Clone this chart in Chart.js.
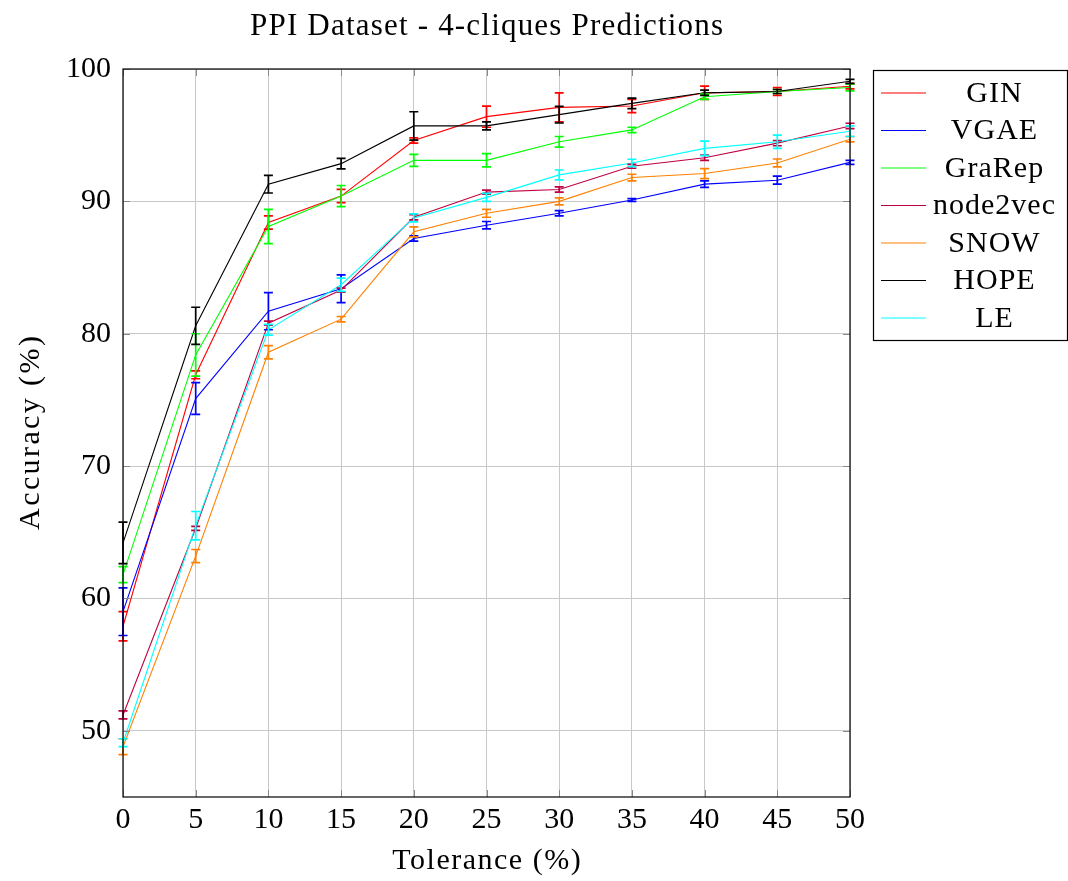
<!DOCTYPE html>
<html>
<head>
<meta charset="utf-8">
<script src="https://cdn.jsdelivr.net/npm/chart.js@4.4.1/dist/chart.umd.min.js"></script>
<style>
  html, body { margin: 0; padding: 0; background: #fff; }
  #wrap { width: 1068px; height: 881px; }
</style>
</head>
<body>
<div id="wrap"><canvas id="chart" width="1068" height="881"></canvas></div>
<script>
const tolerances = [0, 5, 10, 15, 20, 25, 30, 35, 40, 45, 50];
const xTicks = [0, 5, 10, 15, 20, 25, 30, 35, 40, 45, 50];
const yTicks = [50, 60, 70, 80, 90, 100];

const seriesNames = ["GIN", "VGAE", "GraRep", "node2vec", "SNOW", "HOPE", "LE"];
const seriesColors = ["#ff0000", "#0000ff", "#00ff00", "#bf0040", "#ff8000", "#000000", "#00ffff"];

const ginValues = [57.9, 76.9, 88.4, 90.4, 94.6, 96.4, 97.1, 97.2, 98.2, 98.3, 98.7];
const ginErrors = [1.1, 0.3, 0.5, 0.5, 0.2, 0.8, 1.1, 0.5, 0.5, 0.3, 0.2];
const vgaeValues = [59.0, 75.1, 81.7, 83.4, 87.2, 88.2, 89.1, 90.1, 91.3, 91.6, 92.95];
const vgaeErrors = [1.8, 1.2, 1.4, 1.05, 0.2, 0.28, 0.2, 0.1, 0.25, 0.3, 0.15];
const grarepValues = [61.8, 78.4, 88.1, 90.4, 93.1, 93.1, 94.5, 95.4, 97.9, 98.3, 98.6];
const grarepErrors = [0.6, 1.6, 1.3, 0.8, 0.45, 0.5, 0.4, 0.2, 0.2, 0.15, 0.25];
const node2vecValues = [51.2, 65.3, 80.8, 83.3, 88.8, 90.7, 90.9, 92.65, 93.3, 94.4, 95.7];
const node2vecErrors = [0.3, 0.15, 0.15, 0.15, 0.2, 0.15, 0.2, 0.15, 0.2, 0.2, 0.2];
const snowValues = [48.8, 63.2, 78.6, 81.1, 87.7, 89.1, 90.0, 91.8, 92.1, 92.9, 94.7];
const snowErrors = [0.6, 0.5, 0.5, 0.2, 0.38, 0.3, 0.27, 0.25, 0.38, 0.3, 0.2];
const hopeValues = [64.2, 80.6, 91.3, 92.85, 95.7, 95.7, 96.55, 97.4, 98.2, 98.3, 99.07];
const hopeErrors = [1.57, 1.4, 0.67, 0.4, 1.07, 0.3, 0.63, 0.4, 0.2, 0.15, 0.15];
const leValues = [49.1, 65.5, 80.3, 83.7, 88.75, 90.3, 92.0, 92.9, 94.0, 94.5, 95.3];
const leErrors = [0.3, 1.07, 0.4, 0.5, 0.3, 0.3, 0.37, 0.28, 0.55, 0.5, 0.4];

const allValues = [ginValues, vgaeValues, grarepValues, node2vecValues, snowValues, hopeValues, leValues];
const allErrors = [ginErrors, vgaeErrors, grarepErrors, node2vecErrors, snowErrors, hopeErrors, leErrors];

const serif = "'Liberation Serif', 'DejaVu Serif', serif";

const datasets = seriesNames.map((name, i) => ({
  label: name,
  data: tolerances.map((t, k) => ({ x: t, y: allValues[i][k] })),
  errors: allErrors[i],
  borderColor: seriesColors[i],
  backgroundColor: seriesColors[i],
  borderWidth: 1.1,
  pointRadius: 0,
  tension: 0,
  order: seriesNames.length - i,
}));

// vertical error bars with caps, drawn through the scales
const errorBars = {
  id: "errorBars",
  afterDatasetsDraw(chart) {
    const { ctx, scales: { x, y } } = chart;
    ctx.save();
    chart.data.datasets.forEach((ds) => {
      ctx.strokeStyle = ds.borderColor;
      ctx.lineWidth = 1.7;
      ds.data.forEach((p, k) => {
        const e = ds.errors[k];
        const px = x.getPixelForValue(p.x);
        const top = y.getPixelForValue(p.y + e);
        const bot = y.getPixelForValue(p.y - e);
        ctx.beginPath();
        ctx.moveTo(px, top);
        ctx.lineTo(px, bot);
        ctx.moveTo(px - 4.5, top);
        ctx.lineTo(px + 4.5, top);
        ctx.moveTo(px - 4.5, bot);
        ctx.lineTo(px + 4.5, bot);
        ctx.stroke();
      });
    });
    ctx.restore();
  },
};

function spacedText(ctx, text, x, y, size, spacing) {
  ctx.font = size + "px " + serif;
  ctx.letterSpacing = spacing + "px";
  ctx.fillText(text, x + spacing / 2, y);
  ctx.letterSpacing = "0px";
}

const frameAndLegend = {
  id: "frameAndLegend",
  afterDraw(chart) {
    const { ctx, chartArea: a, scales: { x, y } } = chart;
    ctx.save();
    // inner tick marks
    ctx.strokeStyle = "#8a8a8a";
    ctx.lineWidth = 1;
    ctx.beginPath();
    yTicks.forEach((v) => {
      const py = Math.round(y.getPixelForValue(v)) + 0.5;
      ctx.moveTo(a.left, py); ctx.lineTo(a.left + 7, py);
      ctx.moveTo(a.right, py); ctx.lineTo(a.right - 7, py);
    });
    xTicks.forEach((v) => {
      const px = Math.round(x.getPixelForValue(v)) + 0.5;
      ctx.moveTo(px, a.bottom); ctx.lineTo(px, a.bottom - 7);
      ctx.moveTo(px, a.top); ctx.lineTo(px, a.top + 7);
    });
    ctx.stroke();

    // axis frame
    ctx.strokeStyle = "#000";
    ctx.lineWidth = 1.2;
    ctx.strokeRect(a.left, a.top, a.right - a.left, a.bottom - a.top);

    // title and axis titles
    ctx.fillStyle = "#000";
    ctx.textAlign = "center";
    ctx.textBaseline = "middle";
    spacedText(ctx, "PPI Dataset - 4-cliques Predictions", (a.left + a.right) / 2, 27, 31, 1.2);
    spacedText(ctx, "Tolerance (%)", (a.left + a.right) / 2, 861, 30, 1.5);
    ctx.save();
    ctx.translate(31, (a.top + a.bottom) / 2);
    ctx.rotate(-Math.PI / 2);
    spacedText(ctx, "Accuracy (%)", 0, 0, 30, 2.4);
    ctx.restore();

    // legend
    const lx = 873, ly = 70, lw = 194, lh = 270;
    ctx.lineWidth = 1.2;
    ctx.strokeStyle = "#000";
    ctx.strokeRect(lx + 0.5, ly + 0.5, lw, lh);
    seriesNames.forEach((name, i) => {
      const cy = 93 + i * 37.5;
      ctx.strokeStyle = seriesColors[i];
      ctx.lineWidth = 1.1;
      ctx.beginPath();
      ctx.moveTo(881, cy);
      ctx.lineTo(926, cy);
      ctx.stroke();
      ctx.fillStyle = "#000";
      spacedText(ctx, name, 994, cy + 1, 30, 1);
    });
    ctx.restore();
  },
};

new Chart(document.getElementById("chart"), {
  type: "line",
  data: { datasets },
  plugins: [errorBars, frameAndLegend],
  options: {
    responsive: false,
    animation: false,
    layout: { padding: { top: 69, right: 218, left: 0, bottom: 0 } },
    plugins: {
      legend: { display: false },
      title: { display: false },
      tooltip: { enabled: false },
    },
    scales: {
      x: {
        type: "linear",
        min: 0,
        max: 50,
        afterBuildTicks: (scale) => { scale.ticks = xTicks.map((v) => ({ value: v })); },
        afterFit: (scale) => { scale.height = 84; },
        grid: { color: "#c8c8c8", lineWidth: 1, drawTicks: false },
        border: { display: false },
        ticks: { color: "#000", font: { family: serif, size: 30 }, padding: 5, maxRotation: 0 },
      },
      y: {
        min: 45,
        max: 100,
        afterBuildTicks: (scale) => { scale.ticks = yTicks.map((v) => ({ value: v })); },
        afterFit: (scale) => { scale.width = 123; },
        grid: { color: "#c8c8c8", lineWidth: 1, drawTicks: false },
        border: { display: false },
        ticks: { color: "#000", font: { family: serif, size: 30 }, padding: 12 },
      },
    },
  },
});
</script>
</body>
</html>
